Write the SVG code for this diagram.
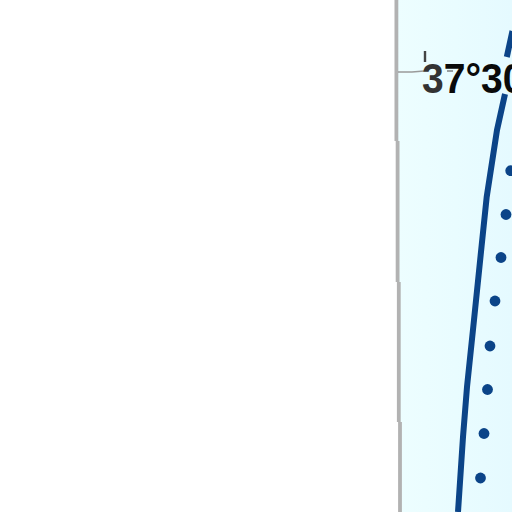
<svg xmlns="http://www.w3.org/2000/svg" width="512" height="512" viewBox="0 0 512 512">
<style>
.edge{fill:none;stroke:#b2b2b2;stroke-width:3.8}
.coast{fill:none;stroke:#0b4488;stroke-width:6}
.dot{fill:#0b4488}
.lab{font-family:"Liberation Sans",Arial,sans-serif;font-weight:700;font-size:42px;fill:#0a0a0a}
</style>
<defs><linearGradient id="sea" x1="0" x2="1" y1="0" y2="0"><stop offset="0" stop-color="#edfeff"/><stop offset="1" stop-color="#e5faff"/></linearGradient></defs>
<rect width="512" height="512" fill="#fff"/>
<polygon points="397,0 512,0 512,512 401,512 398,283 397,141" fill="url(#sea)"/>
<path class="edge" d="M396.4 0V141M397.6 141V282M398.8 282V422M400 422V512"/>
<path d="M398 72H412L424 71" fill="none" stroke="#9a9a9a" stroke-width="1.4"/>
<path d="M425 51V62" fill="none" stroke="#444" stroke-width="2.4"/>
<text class="lab" transform="translate(422 93) scale(.93 1)"><tspan fill="#333">3</tspan>7°30</text>
<path d="M447 71H453" fill="none" stroke="#777" stroke-width="1.4"/>
<path class="coast" d="M512.5 31L506.8 57"/>
<path class="coast" d="M505 94L497 130L486.7 197L481.7 245L474 320L467 387L463 437L458 512"/>
<circle class="dot" cx="510.7" cy="170.7" r="5.4"/>
<circle class="dot" cx="506" cy="214.5" r="5.4"/>
<circle class="dot" cx="501" cy="257.5" r="5.4"/>
<circle class="dot" cx="495" cy="301" r="5.4"/>
<circle class="dot" cx="490" cy="346" r="5.4"/>
<circle class="dot" cx="487.5" cy="389.5" r="5.4"/>
<circle class="dot" cx="484" cy="433.5" r="5.4"/>
<circle class="dot" cx="480.5" cy="478" r="5.4"/>
</svg>
